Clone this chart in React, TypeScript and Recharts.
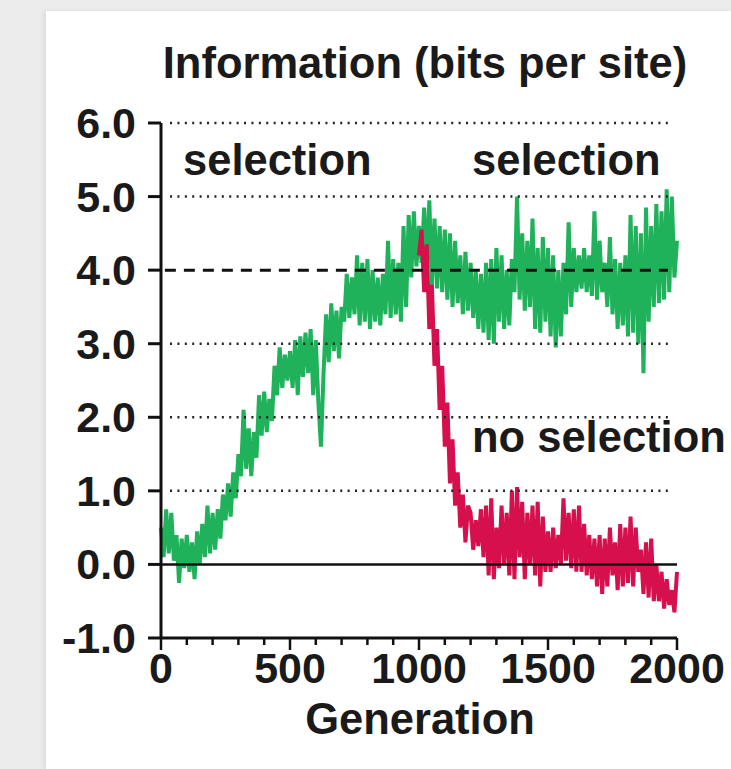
import React from 'react';
import { LineChart, Line, XAxis, YAxis, ReferenceLine } from 'recharts';

// Sampled every 10 generations
const STEP = 10;

const selectionInfo = [
  0.5, 0.1, 0.75, 0.15, 0.7, 0.05, 0.4, -0.25, 0.35, -0.05, 0.4, -0.1, 0.3, -0.2, 0.45, 0.0, 0.55, 0.1, 0.8, 0.15,
  0.7, 0.2, 0.75, 0.35, 0.95, 0.6, 1.1, 0.65, 1.25, 0.9, 1.5, 1.2, 2.1, 1.3, 1.85, 1.2, 1.8, 1.45, 2.3, 1.75,
  2.35, 1.8, 2.25, 1.95, 2.7, 2.3, 2.95, 2.4, 2.85, 2.5, 2.9, 2.4, 3.05, 2.3, 3.1, 2.55, 3.15, 2.6, 3.2, 2.3,
  3.05, 2.2, 1.6, 2.6, 3.4, 2.75, 3.55, 2.9, 3.45, 2.8, 3.5, 3.3, 3.95, 3.35, 3.9, 3.4, 4.2, 3.25, 4.1, 3.3,
  4.15, 3.2, 4.0, 3.3, 3.9, 3.25, 3.95, 3.4, 4.4, 3.35, 4.15, 3.4, 4.1, 3.3, 4.6, 3.5, 4.75, 3.9, 4.8, 4.05,
  4.6, 4.1, 4.85, 4.0, 4.95, 3.8, 4.7, 3.75, 4.6, 3.7, 4.55, 3.6, 4.5, 3.5, 4.4, 3.55, 4.2, 3.4, 4.25, 3.45,
  4.1, 3.35, 4.0, 3.2, 3.95, 3.15, 4.1, 3.05, 4.15, 3.0, 4.3, 3.3, 4.2, 3.2, 4.0, 3.25, 4.15, 3.7, 5.0, 3.6,
  4.5, 3.45, 4.4, 3.5, 4.7, 3.2, 4.3, 3.15, 4.45, 3.3, 4.3, 3.1, 4.2, 2.95, 4.0, 3.1, 4.1, 3.4, 4.65, 3.5,
  4.3, 3.7, 4.2, 3.75, 4.3, 3.7, 4.2, 3.65, 4.8, 3.6, 4.4, 3.7, 4.1, 3.5, 4.45, 3.4, 4.15, 3.2, 4.1, 3.25,
  4.2, 3.1, 4.75, 3.15, 4.6, 3.0, 4.5, 2.6, 4.85, 3.3, 4.6, 3.5, 4.9, 3.55, 4.8, 3.6, 5.1, 3.7, 5.0, 3.9,
  4.4,
];

// selection switched off at generation 1000
const noSelectionStart = 1000;
const noSelectionInfo = [
  4.2, 4.55, 3.7, 4.35, 3.2, 3.8, 2.7, 3.2, 2.1, 2.7, 1.6, 2.2, 1.1, 1.7, 0.8, 1.25, 0.5, 0.95, 0.3, 0.8,
  0.7, 0.2, 0.6, 0.25, 0.75, 0.1, 0.8, -0.15, 0.9, -0.2, 0.5, -0.05, 0.8, 0.0, 0.7, -0.15, 1.0, -0.2, 1.05, 0.1,
  0.85, -0.2, 0.7, 0.0, 0.8, -0.15, 0.85, -0.3, 0.65, -0.1, 0.45, -0.1, 0.5, -0.05, 0.4, 0.0, 0.9, 0.05, 0.7, -0.05,
  0.75, -0.1, 0.8, -0.1, 0.55, -0.15, 0.4, -0.2, 0.35, -0.3, 0.4, -0.4, 0.35, -0.3, 0.5, -0.15, 0.3, -0.35, 0.55, -0.3,
  0.5, -0.25, 0.65, -0.3, 0.5, -0.1, 0.2, -0.4, 0.3, -0.45, 0.35, -0.5, 0.0, -0.5, -0.1, -0.6, -0.2, -0.55, -0.35, -0.65,
  -0.1,
];

const yTicks = [-1, 0, 1, 2, 3, 4, 5, 6];
const dottedLevels = [1, 2, 3, 5, 6];
const xTicks = [
  0, 100, 200, 300, 400, 500, 600, 700, 800, 900, 1000,
  1100, 1200, 1300, 1400, 1500, 1600, 1700, 1800, 1900, 2000,
];
const xLabels = [0, 500, 1000, 1500, 2000];

const data = selectionInfo.map((v, i) => {
  const gen = i * STEP;
  const j = (gen - noSelectionStart) / STEP;
  return { gen, green: v, red: j >= 0 ? noSelectionInfo[j] : undefined };
});

const FONT = "'Liberation Sans', Arial, Helvetica, sans-serif";
const GREEN = '#1fb25a';
const RED = '#d6104c';
const INK = '#1a1a1a';

const XTick = (props: any) => {
  const { x, y, payload } = props;
  const major = xLabels.includes(payload.value);
  return (
    <g>
      <line x1={x} x2={x} y1={y} y2={y + (major ? 12 : 7)} stroke="#111" strokeWidth={2.5} />
      {major && (
        <text x={x} y={y + 45} textAnchor="middle" fontFamily={FONT} fontWeight={700} fontSize={43} fill={INK}>
          {payload.value}
        </text>
      )}
    </g>
  );
};

const YTick = (props: any) => {
  const { x, y, payload } = props;
  return (
    <g>
      <line x1={x - 13} x2={x} y1={y} y2={y} stroke="#111" strokeWidth={3} />
      <text x={x - 25} y={y + 15} textAnchor="end" fontFamily={FONT} fontWeight={700} fontSize={43} fill={INK}>
        {payload.value.toFixed(1)}
      </text>
    </g>
  );
};

const labelStyle = { fontFamily: FONT, fontWeight: 700, fontSize: 43.5, fill: INK };

export default function App() {
  return (
    <div style={{ position: 'fixed', left: 0, top: 0, width: 731, height: 769, background: '#ececec', overflow: 'hidden' }}>
      <div
        style={{
          position: 'absolute', left: 46, top: 11, right: 0, bottom: 0,
          background: '#fff', boxShadow: '-2px 0 5px rgba(0,0,0,0.08)',
        }}
      />
      <div style={{ position: 'absolute', left: 0, top: 0 }}>
        <LineChart width={731} height={769} data={data} margin={{ top: 123, right: 54, bottom: 0, left: 0 }}>
          <XAxis
            dataKey="gen"
            type="number"
            domain={[0, 2000]}
            ticks={xTicks}
            interval={0}
            height={131}
            tickSize={0}
            tickMargin={0}
            tickLine={false}
            axisLine={{ stroke: '#111', strokeWidth: 3 }}
            tick={<XTick />}
          />
          <YAxis
            type="number"
            domain={[-1, 6]}
            ticks={yTicks}
            interval={0}
            width={161}
            tickSize={0}
            tickMargin={0}
            tickLine={false}
            axisLine={{ stroke: '#111', strokeWidth: 3 }}
            tick={<YTick />}
          />
          <Line dataKey="green" type="linear" stroke={GREEN} strokeWidth={4} dot={false} isAnimationActive={false} />
          <Line dataKey="red" type="linear" stroke={RED} strokeWidth={4} dot={false} isAnimationActive={false} />
          {dottedLevels.map((lv) => (
            <ReferenceLine
              key={lv}
              segment={[{ x: 35, y: lv }, { x: 1980, y: lv }]}
              stroke="#222"
              strokeWidth={2.5}
              strokeDasharray="2 5.4"
            />
          ))}
          <ReferenceLine segment={[{ x: 15, y: 4 }, { x: 1965, y: 4 }]} stroke="#111" strokeWidth={3} strokeDasharray="11 8" />
          <ReferenceLine y={0} stroke="#111" strokeWidth={2.5} />
        </LineChart>
      </div>
      <svg width={731} height={769} style={{ position: 'absolute', left: 0, top: 0, pointerEvents: 'none' }}>
        <text x={425} y={78} textAnchor="middle" {...labelStyle}>Information (bits per site)</text>
        <text x={183} y={175} {...labelStyle}>selection</text>
        <text x={472} y={175} {...labelStyle}>selection</text>
        <text x={472} y={452} {...labelStyle}>no selection</text>
        <text x={420} y={734} textAnchor="middle" {...labelStyle}>Generation</text>
      </svg>
    </div>
  );
}
